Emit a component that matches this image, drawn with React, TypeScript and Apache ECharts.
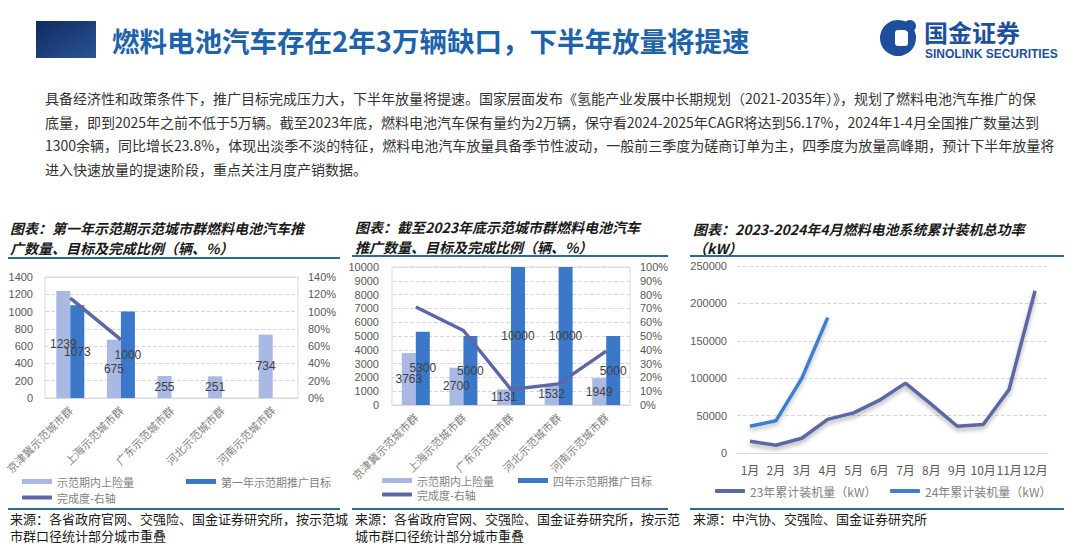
import React, { useEffect, useRef } from "react";
import * as echarts from "echarts";

// ---------- data ----------
const cities = ["京津冀示范城市群", "上海示范城市群", "广东示范城市群", "河北示范城市群", "河南示范城市群"];
const insuredYear1 = [1239, 675, 255, 251, 734];
const targetYear1 = [1073, 1000, null, null, null];
const rateYear1 = [115.5, 67.5, null, null, null];

const insured2023 = [3763, 2700, 1131, 1532, 1949];
const target4Year = [5300, 5000, 10000, 10000, 5000];
const rate2023 = [71, 54, 11.3, 15.3, 39];

const months = ["1月", "2月", "3月", "4月", "5月", "6月", "7月", "8月", "9月", "10月", "11月", "12月"];
const kw2023 = [15700, 10300, 19700, 45000, 53600, 70600, 93400, 65000, 35800, 38000, 85000, 217000];
const kw2024 = [35800, 43000, 99700, 181000];

const paragraph = [
  "具备经济性和政策条件下，推广目标完成压力大，下半年放量将提速。国家层面发布《氢能产业发展中长期规划（2021-2035年）》，规划了燃料电池汽车推广的保",
  "底量，即到2025年之前不低于5万辆。截至2023年底，燃料电池汽车保有量约为2万辆，保守看2024-2025年CAGR将达到56.17%，2024年1-4月全国推广数量达到",
  "1300余辆，同比增长23.8%，体现出淡季不淡的特征，燃料电池汽车放量具备季节性波动，一般前三季度为磋商订单为主，四季度为放量高峰期，预计下半年放量将",
  "进入快速放量的提速阶段，重点关注月度产销数据。",
];

const LIGHT = "#a9b9e3";
const DARK = "#3b78c9";
const LINE = "#5b67a6";
const BLUE24 = "#3d7fcf";
const RULE = "#2f6a92";
const CJK = "'Noto Sans CJK SC', sans-serif";
const NUM = "'Liberation Sans', Arial, sans-serif";

function txt(x: number, y: number, text: string, extra: any = {}) {
  return {
    type: "text",
    x,
    y,
    silent: true,
    style: {
      text,
      fill: "#333",
      fontSize: 14,
      fontFamily: CJK,
      align: "left",
      verticalAlign: "middle",
      ...extra,
    },
  };
}
function hline(x1: number, x2: number, y: number) {
  return {
    type: "line",
    silent: true,
    shape: { x1, y1: y, x2, y2: y },
    style: { stroke: RULE, lineWidth: 2 },
  };
}

export default function App() {
  const ref = useRef<HTMLDivElement>(null);
  useEffect(() => {
    if (!ref.current) return;
    const chart = echarts.init(ref.current, undefined, { renderer: "svg" });

    const titleStyle = { fontSize: 14, fontWeight: "bold", fontStyle: "italic", fill: "#1a1a1a" };
    const srcStyle = { fontSize: 13, fill: "#1a1a1a" };

    const graphic: any[] = [
      {
        type: "rect",
        silent: true,
        shape: { x: 36, y: 21, width: 60, height: 37 },
        style: {
          fill: new echarts.graphic.LinearGradient(0, 0, 1, 1, [
            { offset: 0, color: "#0f2a5e" },
            { offset: 1, color: "#2a5596" },
          ]),
        },
      },
      txt(112, 40, "燃料电池汽车存在2年3万辆缺口，下半年放量将提速", {
        fontSize: 27.5,
        fontWeight: "bold",
        fill: "#1e63aa",
      }),
      // logo
      { type: "circle", silent: true, shape: { cx: 898, cy: 38, r: 18 }, style: { fill: "#1d4f9c" } },
      { type: "rect", silent: true, shape: { x: 895, y: 30, width: 13, height: 16, r: 3 }, style: { fill: "#ffffff" } },
      { type: "circle", silent: true, shape: { cx: 910, cy: 26, r: 6 }, style: { fill: "#1d4f9c" } },
      txt(924, 31, "国金证券", { fontSize: 24, fontWeight: "bold", fill: "#1d4f9c" }),
      txt(925, 54, "SINOLINK SECURITIES", { fontSize: 12, fontWeight: "bold", fill: "#1d4f9c", fontFamily: NUM }),
      // paragraph
      ...paragraph.map((p, i) => txt(45, 98 + i * 23.5, p, { fontSize: 14, fill: "#333" })),
      // chart titles
      txt(10, 228, "图表：第一年示范期示范城市群燃料电池汽车推", titleStyle),
      txt(10, 248, "广数量、目标及完成比例（辆、%）", titleStyle),
      txt(355, 227, "图表：截至2023年底示范城市群燃料电池汽车", titleStyle),
      txt(355, 247, "推广数量、目标及完成比例（辆、%）", titleStyle),
      txt(693, 229, "图表：2023-2024年4月燃料电池系统累计装机总功率", titleStyle),
      txt(693, 248, "（kW）", titleStyle),
      hline(8, 340, 258),
      hline(352, 668, 256),
      hline(690, 1064, 256),
      hline(8, 340, 509),
      hline(352, 668, 509),
      hline(690, 1064, 509),
      txt(10, 518, "来源：各省政府官网、交强险、国金证券研究所，按示范城", srcStyle),
      txt(10, 535, "市群口径统计部分城市重叠", srcStyle),
      txt(355, 518, "来源：各省政府官网、交强险、国金证券研究所，按示范", srcStyle),
      txt(355, 535, "城市群口径统计部分城市重叠", srcStyle),
      txt(693, 518, "来源：中汽协、交强险、国金证券研究所", srcStyle),
    ];

    const plain = (v: number) => String(v);
    const catAxisLabel = { rotate: 45, fontSize: 11, color: "#7f7f7f", margin: 10, interval: 0, fontFamily: CJK };
    const valLabel = { fontSize: 11, color: "#595959", fontFamily: NUM, formatter: plain };
    const dashed = { lineStyle: { type: "dashed", color: "#d9d9d9" } };
    const legendText = { fontSize: 11, color: "#7f7f7f", fontFamily: CJK };
    const barLabel = { show: true, position: "inside", color: "#404040", fontSize: 12, fontFamily: NUM };

    const mkLegend = (left: number, top: number, name: string, h: number, icon = "rect", fs = 11) => ({
      left,
      top,
      selectedMode: false,
      itemWidth: 30,
      itemHeight: h,
      padding: 0,
      data: [{ name, icon }],
      textStyle: { ...legendText, fontSize: fs },
    });

    chart.setOption({
      animation: false,
      backgroundColor: "#ffffff",
      graphic,
      grid: [
        { left: 45, top: 277, width: 253, height: 121, show: true, borderColor: "#d9d9d9", borderWidth: 1 },
        { left: 392, top: 267, width: 238, height: 138, show: true, borderColor: "#d9d9d9", borderWidth: 1 },
        { left: 737, top: 266, width: 311, height: 187 },
      ],
      xAxis: [
        {
          gridIndex: 0,
          type: "category",
          data: cities,
          axisLine: { lineStyle: { color: "#d9d9d9" } },
          axisTick: { show: false },
          axisLabel: catAxisLabel,
        },
        {
          gridIndex: 1,
          type: "category",
          data: cities,
          axisLine: { lineStyle: { color: "#d9d9d9" } },
          axisTick: { show: false },
          axisLabel: catAxisLabel,
        },
        {
          gridIndex: 2,
          type: "category",
          data: months,
          axisLine: { lineStyle: { color: "#d9d9d9" } },
          axisTick: { show: false },
          axisLabel: { fontSize: 12, color: "#595959", margin: 10, interval: 0, fontFamily: CJK },
        },
      ],
      yAxis: [
        {
          gridIndex: 0,
          type: "value",
          min: 0,
          max: 1400,
          interval: 200,
          axisLabel: { ...valLabel, margin: 12 },
          axisLine: { show: false },
          splitLine: dashed,
        },
        {
          gridIndex: 0,
          type: "value",
          position: "right",
          min: 0,
          max: 140,
          interval: 20,
          axisLabel: { ...valLabel, margin: 10, formatter: "{value}%" },
          axisLine: { show: false },
          splitLine: { show: false },
        },
        {
          gridIndex: 1,
          type: "value",
          min: 0,
          max: 10000,
          interval: 1000,
          axisLabel: { ...valLabel, margin: 13 },
          axisLine: { show: false },
          splitLine: dashed,
        },
        {
          gridIndex: 1,
          type: "value",
          position: "right",
          min: 0,
          max: 100,
          interval: 10,
          axisLabel: { ...valLabel, margin: 10, formatter: "{value}%" },
          axisLine: { show: false },
          splitLine: { show: false },
        },
        {
          gridIndex: 2,
          type: "value",
          min: 0,
          max: 250000,
          interval: 50000,
          axisLabel: { ...valLabel, margin: 10 },
          axisLine: { show: false },
          splitLine: dashed,
        },
      ],
      legend: [
        mkLegend(22, 476, "示范期内上险量", 5),
        mkLegend(186, 476, "第一年示范期推广目标", 5),
        mkLegend(22, 492, "完成度-右轴", 4, "roundRect"),
        mkLegend(382, 475, "示范期内上险量", 5),
        mkLegend(518, 475, "四年示范期推广目标", 5),
        mkLegend(382, 489, "完成度-右轴", 4, "roundRect"),
        mkLegend(715, 485, "23年累计装机量（kW）", 4, "roundRect", 12),
        mkLegend(890, 485, "24年累计装机量（kW）", 4, "roundRect", 12),
      ],
      series: [
        {
          name: "示范期内上险量",
          type: "bar",
          xAxisIndex: 0,
          yAxisIndex: 0,
          data: insuredYear1,
          barWidth: 14,
          barGap: "0%",
          itemStyle: { color: LIGHT },
          label: barLabel,
        },
        {
          name: "第一年示范期推广目标",
          type: "bar",
          xAxisIndex: 0,
          yAxisIndex: 0,
          data: targetYear1,
          barWidth: 14,
          barGap: "0%",
          itemStyle: { color: DARK },
          label: barLabel,
        },
        {
          name: "完成度-右轴",
          type: "line",
          xAxisIndex: 0,
          yAxisIndex: 1,
          data: rateYear1,
          symbol: "none",
          itemStyle: { color: LINE },
          lineStyle: { color: LINE, width: 3.5 },
        },
        {
          name: "示范期内上险量",
          type: "bar",
          xAxisIndex: 1,
          yAxisIndex: 2,
          data: insured2023,
          barWidth: 14,
          barGap: "0%",
          itemStyle: { color: LIGHT },
          label: barLabel,
        },
        {
          name: "四年示范期推广目标",
          type: "bar",
          xAxisIndex: 1,
          yAxisIndex: 2,
          data: target4Year,
          barWidth: 14,
          barGap: "0%",
          itemStyle: { color: DARK },
          label: barLabel,
        },
        {
          name: "完成度-右轴",
          type: "line",
          xAxisIndex: 1,
          yAxisIndex: 3,
          data: rate2023,
          symbol: "none",
          itemStyle: { color: LINE },
          lineStyle: { color: LINE, width: 3.5 },
        },
        {
          name: "23年累计装机量（kW）",
          type: "line",
          xAxisIndex: 2,
          yAxisIndex: 4,
          data: kw2023,
          symbol: "none",
          itemStyle: { color: LINE },
          lineStyle: {
            color: LINE,
            width: 3.5,
            shadowColor: "rgba(0,0,0,0.3)",
            shadowBlur: 4,
            shadowOffsetY: 3,
          },
        },
        {
          name: "24年累计装机量（kW）",
          type: "line",
          xAxisIndex: 2,
          yAxisIndex: 4,
          data: kw2024,
          symbol: "none",
          itemStyle: { color: BLUE24 },
          lineStyle: {
            color: BLUE24,
            width: 3.5,
            shadowColor: "rgba(0,0,0,0.25)",
            shadowBlur: 4,
            shadowOffsetY: 3,
          },
        },
      ],
    });
    return () => chart.dispose();
  }, []);

  return (
    <div
      ref={ref}
      style={{ position: "fixed", left: 0, top: 0, width: 1080, height: 547, background: "#fff" }}
    />
  );
}
